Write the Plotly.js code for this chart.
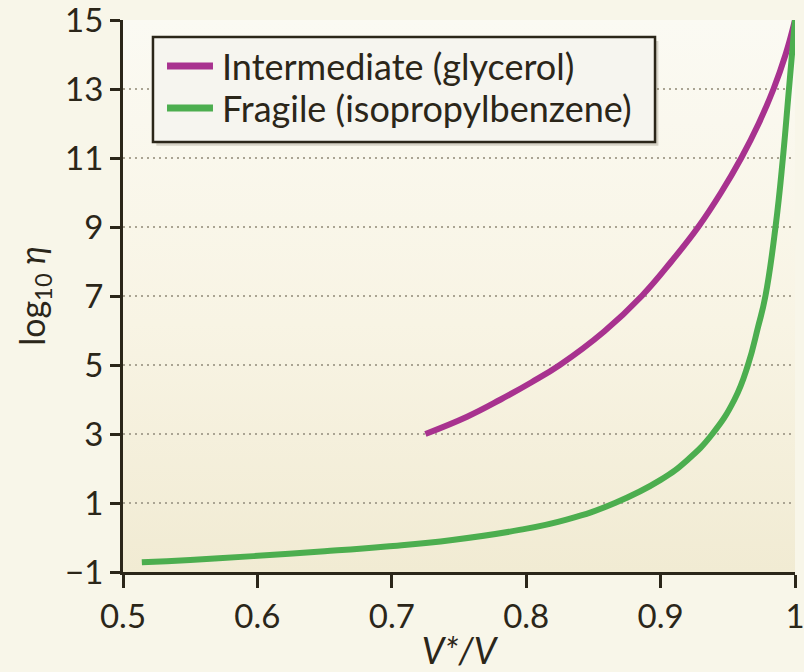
<!DOCTYPE html>
<html>
<head>
<meta charset="utf-8">
<script src="https://cdn.plot.ly/plotly-3.0.1.min.js"></script>
<style>
  html, body { margin: 0; padding: 0; background: #f8f6e9; }
  #chart { width: 804px; height: 672px; }
</style>
</head>
<body>
<div id="chart"></div>
<script>
// Viscosity (log10 η) against reduced volume V*/V for two glass formers
const glycerolX = [0.725, 0.756, 0.781, 0.804, 0.825, 0.858, 0.886, 0.908, 0.928, 0.945, 0.960, 0.973, 0.984, 0.993, 1.000];
const glycerolY = [3.0, 3.5, 4.0, 4.5, 5.0, 5.97, 7.0, 8.0, 9.0, 10.0, 11.0, 12.0, 13.0, 14.0, 15.0];

const cumeneX = [0.514, 0.55, 0.597, 0.65, 0.696, 0.745, 0.795, 0.83, 0.866, 0.90, 0.92, 0.9385, 0.955, 0.965, 0.9725, 0.978, 0.9855, 0.991, 0.9955, 1.000];
const cumeneY = [-0.72, -0.65, -0.54, -0.40, -0.26, -0.07, 0.22, 0.52, 1.0, 1.67, 2.25, 3.0, 4.0, 5.0, 6.1, 7.0, 9.0, 11.0, 13.0, 15.0];

const seriesNames = ['Intermediate (glycerol)', 'Fragile (isopropylbenzene)'];
const seriesColors = ['#a8328f', '#4cae4f'];
const xTicks = [0.5, 0.6, 0.7, 0.8, 0.9, 1];
const xTickText = ['0.5', '0.6', '0.7', '0.8', '0.9', '1'];
const yTicks = [-1, 1, 3, 5, 7, 9, 11, 13, 15];

const FONT = 'Lato, "Open Sans", sans-serif';
const INK = '#2b2619';

// soft vertical wash behind the plotting area
const wash = 'data:image/svg+xml;utf8,' + encodeURIComponent(
  '<svg xmlns="http://www.w3.org/2000/svg" width="10" height="100" preserveAspectRatio="none">' +
  '<defs><linearGradient id="g" x1="0" y1="0" x2="0" y2="1">' +
  '<stop offset="0" stop-color="#fbfaf3"/><stop offset="0.55" stop-color="#f8f4e4"/>' +
  '<stop offset="1" stop-color="#f1ebd3"/></linearGradient></defs>' +
  '<rect width="10" height="100" fill="url(#g)"/></svg>');

const traces = [
  {
    x: glycerolX, y: glycerolY, name: seriesNames[0],
    type: 'scatter', mode: 'lines',
    line: { color: seriesColors[0], width: 6, shape: 'spline', smoothing: 1.2 }
  },
  {
    x: cumeneX, y: cumeneY, name: seriesNames[1],
    type: 'scatter', mode: 'lines',
    line: { color: seriesColors[1], width: 6, shape: 'spline', smoothing: 1.3 }
  }
];

// Boxed key in the upper-left corner (paper coordinates)
const key = { x0: 0.0446, x1: 0.7917, y0: 0.779, y1: 0.969,
              sampleX0: 0.0655, sampleX1: 0.1339, textX: 0.1443,
              rows: [0.9167, 0.8406] };

const shapes = [
  { type: 'rect', xref: 'paper', yref: 'paper', layer: 'above',
    x0: key.x0 + 0.005, x1: key.x1 + 0.005, y0: key.y0 - 0.007, y1: key.y1 - 0.007,
    fillcolor: 'rgba(90,80,60,0.22)', line: { width: 0 } },
  { type: 'rect', xref: 'paper', yref: 'paper', layer: 'above',
    x0: key.x0, x1: key.x1, y0: key.y0, y1: key.y1,
    fillcolor: '#f6f5ef', line: { color: INK, width: 2.5 } }
];
const annotations = [];
seriesNames.forEach((name, i) => {
  shapes.push({ type: 'line', xref: 'paper', yref: 'paper', layer: 'above',
    x0: key.sampleX0, x1: key.sampleX1, y0: key.rows[i], y1: key.rows[i],
    line: { color: seriesColors[i], width: 7 } });
  annotations.push({ xref: 'paper', yref: 'paper', x: key.textX, y: key.rows[i],
    xanchor: 'left', yanchor: 'middle', showarrow: false, text: name,
    font: { family: FONT, size: 36, color: INK } });
});

const layout = {
  width: 804, height: 672,
  margin: { l: 123, r: 9, t: 20, b: 100 },
  paper_bgcolor: '#f8f6e9',
  plot_bgcolor: 'rgba(0,0,0,0)',
  font: { family: FONT, color: INK, size: 33 },
  showlegend: false,
  shapes: shapes,
  annotations: annotations,
  images: [{
    source: wash, xref: 'paper', yref: 'paper',
    x: 0, y: 1, sizex: 1, sizey: 1, xanchor: 'left', yanchor: 'top',
    sizing: 'stretch', layer: 'below'
  }],
  xaxis: {
    range: [0.5, 1], tickvals: xTicks, ticktext: xTickText,
    showline: true, linecolor: INK, linewidth: 3,
    ticks: 'outside', ticklen: 13, tickwidth: 3, tickcolor: INK,
    ticklabeloverflow: 'allow',
    showgrid: false, zeroline: false,
    tickfont: { family: FONT, size: 33, color: INK },
    title: { text: '<i>V*/V</i>', font: { family: FONT, size: 36, color: INK }, standoff: 6 }
  },
  yaxis: {
    range: [-1, 15], tickvals: yTicks,
    showline: true, linecolor: INK, linewidth: 3,
    ticks: 'outside', ticklen: 10, tickwidth: 3, tickcolor: INK,
    ticklabeloverflow: 'allow',
    showgrid: true, gridcolor: '#aaa493', gridwidth: 1.5, griddash: '2px,4px',
    zeroline: false,
    tickfont: { family: FONT, size: 33, color: INK },
    title: { text: 'log<sub>10</sub> <i>η</i>', font: { family: FONT, size: 34, color: INK }, standoff: 10 }
  }
};

Plotly.newPlot('chart', traces, layout, { displayModeBar: false, staticPlot: true });
</script>
</body>
</html>
